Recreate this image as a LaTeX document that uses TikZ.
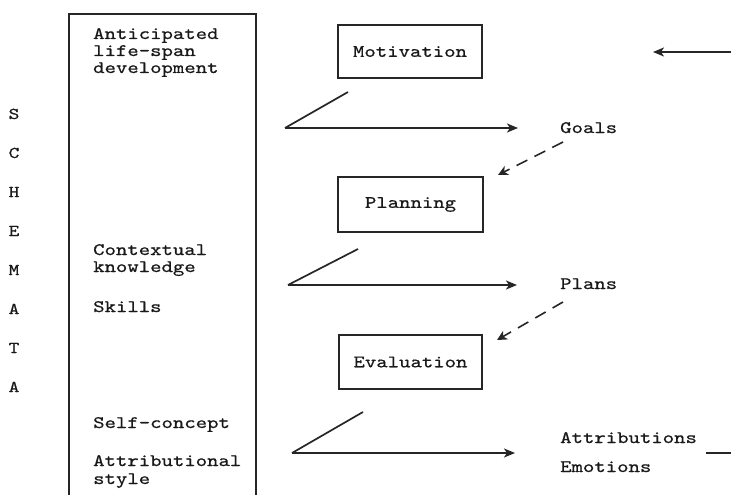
\documentclass[tikz,border=0pt]{standalone}
\usepackage{fontspec}
\newfontfamily\tw[FakeStretch=1.24,FakeBold=0.7]{lmmono10-regular.otf}
\usetikzlibrary{arrows.meta}
\begin{document}
\begin{tikzpicture}[x=1pt,y=-1pt,
  ink/.style={draw=black!85, line width=1.7pt},
  flow/.style={draw=black!85, line width=2.2pt, -{Stealth[length=11pt,width=9pt,inset=3pt]}},
  dashflow/.style={draw=black!85, line width=1.6pt, dash pattern=on 12pt off 8pt, -{Stealth[length=10pt,width=10pt,inset=3pt]}},
  txt/.style={font=\tw\fontsize{17.5}{17}\selectfont, text=black!90, inner sep=0pt, anchor=base west},
  letter/.style={font=\tw\fontsize{16.5}{16}\selectfont, text=black!90, inner sep=0pt, anchor=base},
  procbox/.style={ink, rectangle, inner sep=0pt, font=\tw\fontsize{17.5}{17}\selectfont, text=black!90}]
\useasboundingbox (0,0) rectangle (731,495);

% SCHEMATA column
\foreach \l [count=\i from 0] in {S,C,H,E,M,A,T,A}
  \node[letter] (sch\i) at (14,{119+39*\i}) {\l};

% big schema box (open at the bottom edge of the page)
\node[ink, anchor=north west, minimum width=187pt, minimum height=520pt, inner sep=0pt] (schema) at (68,13) {};

% texts in schema box
\node[txt] (t1) at (93,39) {Anticipated};
\node[txt] (t2) at (93,56) {life-span};
\node[txt] (t3) at (93,73) {development};
\node[txt] (t4) at (93,255) {Contextual};
\node[txt] (t5) at (93,272) {knowledge};
\node[txt] (t6) at (93,312) {Skills};
\node[txt] (t7) at (93,428) {Self-concept};
\node[txt] (t8) at (93,466) {Attributional};
\node[txt] (t9) at (93,484) {style};

% process boxes
\node[procbox, minimum width=144pt, minimum height=53pt] (mot) at (410,51.5) {Motivation};
\node[procbox, minimum width=145pt, minimum height=55pt] (plan) at (410.5,204.5) {Planning};
\node[procbox, minimum width=143pt, minimum height=54pt] (eval) at (410.5,362) {Evaluation};

% outputs
\node[txt] (goals) at (560,133) {Goals};
\node[txt] (plans) at (560,289) {Plans};
\node[txt] (attr) at (560,443) {Attributions};
\node[txt] (emo) at (560,472) {Emotions};

% wedge arrows
\coordinate (a1) at (348,92);  \coordinate (a0) at (285,128); \coordinate (a2) at (518,128);
\coordinate (b1) at (358,249); \coordinate (b0) at (288,285); \coordinate (b2) at (517,285);
\coordinate (c1) at (363,412); \coordinate (c0) at (292,453); \coordinate (c2) at (515,453);
\draw[ink] (a1) -- (a0); \draw[flow] (a0) -- (a2);
\draw[ink] (b1) -- (b0); \draw[flow] (b0) -- (b2);
\draw[ink] (c1) -- (c0); \draw[flow] (c0) -- (c2);

% dashed arrows
\coordinate (gs) at (563,142); \coordinate (ge) at (498,175);
\coordinate (ps) at (563,302); \coordinate (pe) at (497,340);
\draw[dashflow] (gs) -- (ge);
\draw[dashflow] (ps) -- (pe);

% feedback (leaves and re-enters the page)
\coordinate (fo1) at (706,453); \coordinate (fo2) at (731,453);
\draw[ink] (fo1) -- (fo2);
\coordinate (fi1) at (731,52); \coordinate (fi2) at (653,52);
\draw[flow, line width=1.9pt] (fi1) -- (fi2);
\end{tikzpicture}
\end{document}
